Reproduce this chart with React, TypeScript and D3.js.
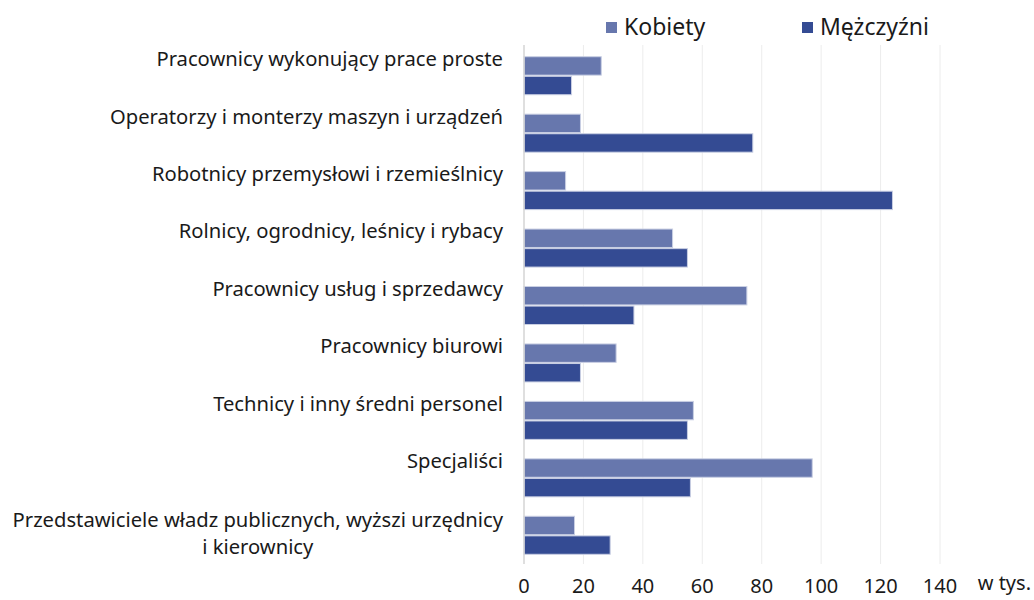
import { useEffect, useRef } from "react";
import * as d3 from "d3";

const categories = [
  ["Pracownicy wykonujący prace proste"],
  ["Operatorzy i monterzy maszyn i urządzeń"],
  ["Robotnicy przemysłowi i rzemieślnicy"],
  ["Rolnicy, ogrodnicy, leśnicy i rybacy"],
  ["Pracownicy usług i sprzedawcy"],
  ["Pracownicy biurowi"],
  ["Technicy i inny średni personel"],
  ["Specjaliści"],
  ["Przedstawiciele władz publicznych, wyższi urzędnicy", "i kierownicy"],
];
const kobiety = [26, 19, 14, 50, 75, 31, 57, 97, 17];
const mezczyzni = [16, 77, 124, 55, 37, 19, 55, 56, 29];
const seriesNames = ["Kobiety", "Mężczyźni"];
const colors = ["#6777ad", "#344b93"];
const xTicks = [0, 20, 40, 60, 80, 100, 120, 140];

export default function App() {
  const ref = useRef<SVGSVGElement>(null);

  useEffect(() => {
    const width = 1034;
    const height = 600;
    const margin = { top: 47, right: 94, bottom: 36, left: 524 };
    const font = "'Noto Sans', sans-serif";
    const labelSize = 20.2;

    const svg = d3.select(ref.current);
    svg.selectAll("*").remove();

    const x = d3
      .scaleLinear()
      .domain([0, 140])
      .range([margin.left, width - margin.right]);

    const y = d3
      .scaleBand()
      .domain(categories.map((d, i) => String(i)))
      .range([margin.top, height - margin.bottom]);

    const inner = d3
      .scaleBand()
      .domain(seriesNames)
      .range([y.bandwidth() / 2 - 19, y.bandwidth() / 2 + 19])
      .paddingInner(0.06);

    // gridlines
    svg
      .append("g")
      .selectAll("line")
      .data(xTicks.slice(1))
      .join("line")
      .attr("x1", (d) => x(d))
      .attr("x2", (d) => x(d))
      .attr("y1", margin.top - 2)
      .attr("y2", height - margin.bottom)
      .attr("stroke", "#ececec")
      .attr("stroke-width", 1);

    // bars
    const rows = categories.map((c, i) => ({
      key: String(i),
      vals: [kobiety[i], mezczyzni[i]],
    }));

    svg
      .append("g")
      .selectAll("g")
      .data(rows)
      .join("g")
      .attr("transform", (d) => `translate(0,${y(d.key)})`)
      .selectAll("rect")
      .data((d) => d.vals.map((v, j) => ({ v, s: seriesNames[j], j })))
      .join("rect")
      .attr("x", x(0))
      .attr("y", (d) => inner(d.s)!)
      .attr("width", (d) => x(d.v) - x(0))
      .attr("height", inner.bandwidth())
      .attr("fill", (d) => colors[d.j])
      .attr("stroke", "#c9cfe3")
      .attr("stroke-width", 1);

    // axis line
    svg
      .append("line")
      .attr("x1", x(0))
      .attr("x2", x(0))
      .attr("y1", margin.top - 2)
      .attr("y2", height - margin.bottom)
      .attr("stroke", "#d4d4d4")
      .attr("stroke-width", 1.5);

    // x tick labels
    svg
      .append("g")
      .selectAll("text")
      .data(xTicks)
      .join("text")
      .attr("x", (d) => x(d))
      .attr("y", 593)
      .attr("text-anchor", "middle")
      .attr("font-family", font)
      .attr("font-size", 20)
      .attr("fill", "#1a1a1a")
      .text((d) => d);

    svg
      .append("text")
      .attr("x", 1031)
      .attr("y", 590)
      .attr("text-anchor", "end")
      .attr("font-family", font)
      .attr("font-size", 20)
      .attr("fill", "#1a1a1a")
      .text("w tys.");

    // category labels
    const labelX = 503;
    categories.forEach((lines, i) => {
      const cy = y(String(i))! + y.bandwidth() / 2;
      if (lines.length === 1) {
        svg
          .append("text")
          .attr("x", labelX)
          .attr("y", cy - 15)
          .attr("text-anchor", "end")
          .attr("dominant-baseline", "middle")
          .attr("font-family", font)
          .attr("font-size", labelSize)
          .attr("fill", "#1a1a1a")
          .text(lines[0]);
      } else {
        const first = svg
          .append("text")
          .attr("x", labelX)
          .attr("y", cy - 14)
          .attr("text-anchor", "end")
          .attr("dominant-baseline", "middle")
          .attr("font-family", font)
          .attr("font-size", labelSize)
          .attr("fill", "#1a1a1a")
          .text(lines[0]);
        const w = (first.node() as SVGTextElement).getComputedTextLength();
        svg
          .append("text")
          .attr("x", labelX - w / 2)
          .attr("y", cy + 13)
          .attr("text-anchor", "middle")
          .attr("dominant-baseline", "middle")
          .attr("font-family", font)
          .attr("font-size", labelSize)
          .attr("fill", "#1a1a1a")
          .text(lines[1]);
      }
    });

    // legend
    const legendPos = [606, 802];
    const legend = svg
      .append("g")
      .selectAll("g")
      .data(seriesNames)
      .join("g")
      .attr("transform", (d, i) => `translate(${legendPos[i]},22)`);
    legend
      .append("rect")
      .attr("width", 11)
      .attr("height", 11)
      .attr("fill", (d, i) => colors[i]);
    legend
      .append("text")
      .attr("x", 18)
      .attr("y", 13)
      .attr("font-family", font)
      .attr("font-size", 23)
      .attr("fill", "#1a1a1a")
      .text((d) => d);
  });

  return (
    <svg
      ref={ref}
      width={1034}
      height={600}
      style={{ position: "absolute", left: 0, top: 0, background: "#fff" }}
    ></svg>
  );
}
